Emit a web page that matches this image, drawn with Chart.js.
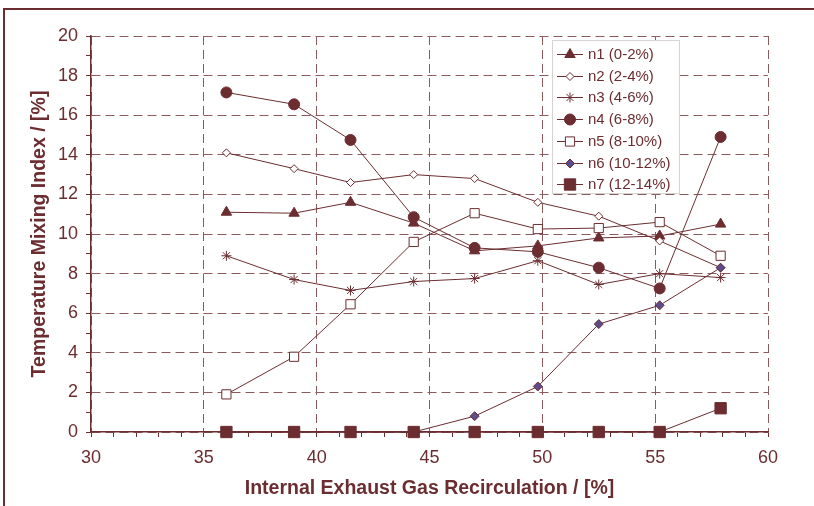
<!DOCTYPE html>
<html>
<head>
<meta charset="utf-8">
<script src="https://cdn.jsdelivr.net/npm/chart.js@4.4.1/dist/chart.umd.min.js"></script>
<style>
  html, body { margin: 0; padding: 0; background: #fff; }
  #grafico { display: block; }
</style>
</head>
<body>
<canvas id="grafico" width="814" height="506"></canvas>
<script>
// valores
const egr = [36.0, 39.0, 41.5, 44.3, 47.0, 49.8, 52.5, 55.2, 57.9];
const n1 = [11.1, 11.05, 11.6, 10.55, 9.15, 9.4, 9.8, 9.9, 10.5];
const n2 = [14.1, 13.3, 12.6, 13.0, 12.8, 11.6, 10.9, 9.65, 8.3];
const n3 = [8.9, 7.7, 7.15, 7.6, 7.75, 8.65, 7.45, 8.0, 7.8];
const n4 = [17.15, 16.55, 14.75, 10.85, 9.3, 9.1, 8.3, 7.25, 14.9];
const n5 = [1.9, 3.8, 6.45, 9.6, 11.05, 10.25, 10.3, 10.6, 8.9];
const n6 = [0, 0, 0, 0, 0.8, 2.3, 5.45, 6.4, 8.3];
const n7 = [0, 0, 0, 0, 0, 0, 0, 0, 1.2];
const etiquetas = ["n1 (0-2%)", "n2 (2-4%)", "n3 (4-6%)", "n4 (6-8%)", "n5 (8-10%)", "n6 (10-12%)", "n7 (12-14%)"];

const xMin = 30, xMax = 60, xPaso = 5;
const yMin = 0, yMax = 20, yPaso = 2;

const granate = "#6B2D30";
const morado = "#5E4B8B";
const colorGrid = "#8A5A5C";
const fuente = "'Liberation Sans', Arial, sans-serif";

function serie(label, data, estilo, radio, fondo) {
    return {
        label,
        data: data.map((v, i) => ({ x: egr[i], y: v })),
        borderColor: granate,
        borderWidth: 1,
        pointStyle: estilo,
        pointRadius: radio,
        pointBackgroundColor: fondo,
        pointBorderColor: granate,
        pointBorderWidth: 1,
        tension: 0,
        clip: false
    };
}

function marcas(min, max) {
    const t = [];
    for (let v = min; v <= max; v++) t.push({ value: v });
    return t;
}

const series = [
    serie(etiquetas[0], n1, "triangle", 6, granate),
    serie(etiquetas[1], n2, "rectRot", 4, "#ffffff"),
    serie(etiquetas[2], n3, "star", 5, granate),
    serie(etiquetas[3], n4, "circle", 5.5, granate),
    serie(etiquetas[4], n5, "rect", 6.5, "#ffffff"),
    serie(etiquetas[5], n6, "rectRot", 4.5, morado),
    serie(etiquetas[6], n7, "rect", 8, granate)
];
// n7 encima de todo, como en el original
series.forEach((s, i) => { s.order = series.length - i; });

const marco = {
    id: "marco",
    beforeDraw(chart) {
        const ctx = chart.ctx;
        ctx.save();
        ctx.strokeStyle = granate;
        ctx.lineWidth = 2;
        ctx.beginPath();
        ctx.moveTo(4, chart.height);
        ctx.lineTo(4, 9);
        ctx.lineTo(chart.width, 9);
        ctx.stroke();
        ctx.restore();
    }
};

const leyenda = {
    id: "leyenda",
    afterDatasetsDraw(chart) {
        const { ctx, chartArea } = chart;
        const x0 = chartArea.left + 461, y0 = chartArea.top + 4, w = 127, h = 153;
        ctx.save();
        ctx.fillStyle = "#ffffff";
        ctx.fillRect(x0, y0, w, h);
        ctx.strokeStyle = "#d9d2d2";
        ctx.lineWidth = 1;
        ctx.strokeRect(x0 + 0.5, y0 + 0.5, w, h);
        chart.data.datasets.forEach((ds, i) => {
            const cy = Math.round(y0 + 14 + i * 21.7);
            ctx.strokeStyle = ds.borderColor;
            ctx.lineWidth = 1;
            ctx.beginPath();
            ctx.moveTo(x0 + 5, cy + 0.5);
            ctx.lineTo(x0 + 31, cy + 0.5);
            ctx.stroke();
            ctx.fillStyle = ds.pointBackgroundColor;
            ctx.strokeStyle = ds.pointBorderColor;
            Chart.helpers.drawPoint(ctx, {
                pointStyle: ds.pointStyle,
                radius: ds.pointRadius,
                rotation: 0,
                borderWidth: 1
            }, x0 + 18, cy + 0.5);
            ctx.fillStyle = granate;
            ctx.font = "15px " + fuente;
            ctx.textAlign = "left";
            ctx.textBaseline = "middle";
            ctx.fillText(ds.label, x0 + 36, cy + 1);
        });
        ctx.restore();
    }
};

Chart.defaults.font.family = fuente;
Chart.defaults.color = granate;

new Chart(document.getElementById("grafico"), {
    type: "line",
    data: { datasets: series },
    options: {
        responsive: false,
        animation: false,
        devicePixelRatio: 1,
        layout: { padding: { left: 0, right: 46, top: 36, bottom: 0 } },
        plugins: { legend: { display: false }, tooltip: { enabled: false } },
        scales: {
            x: {
                type: "linear",
                min: xMin,
                max: xMax,
                afterBuildTicks: s => { s.ticks = marcas(xMin, xMax); },
                afterFit: s => { s.height = 74; },
                ticks: {
                    autoSkip: false,
                    maxRotation: 0,
                    padding: 10,
                    color: granate,
                    font: { size: 18 },
                    callback: v => (v % xPaso === 0 ? v : "")
                },
                grid: {
                    color: c => (c.tick && c.tick.value % xPaso === 0 ? colorGrid : "transparent"),
                    tickColor: granate,
                    tickLength: 5,
                    tickBorderDash: [],
                    lineWidth: 1
                },
                border: { display: true, color: granate, width: 1.5, dash: [9, 5] },
                title: {
                    display: true,
                    text: "Internal Exhaust Gas Recirculation / [%]",
                    color: granate,
                    font: { size: 19.5, weight: "bold" },
                    padding: { top: 0, bottom: 6 }
                }
            },
            y: {
                min: yMin,
                max: yMax,
                afterBuildTicks: s => { s.ticks = marcas(yMin, yMax); },
                afterFit: s => { s.width = 91; },
                ticks: {
                    autoSkip: false,
                    padding: 8,
                    color: granate,
                    font: { size: 18 },
                    callback: v => (v % yPaso === 0 ? v : "")
                },
                grid: {
                    color: c => (c.tick && c.tick.value % yPaso === 0 ? colorGrid : "transparent"),
                    tickColor: granate,
                    tickLength: 5,
                    tickBorderDash: [],
                    lineWidth: 1
                },
                border: { display: true, color: granate, width: 1.5, dash: [9, 5] },
                title: {
                    display: true,
                    text: "Temperature Mixing Index / [%]",
                    color: granate,
                    font: { size: 19.5, weight: "bold" },
                    padding: { top: 28, bottom: 0 }
                }
            }
        }
    },
    plugins: [marco, leyenda]
});
</script>
</body>
</html>
